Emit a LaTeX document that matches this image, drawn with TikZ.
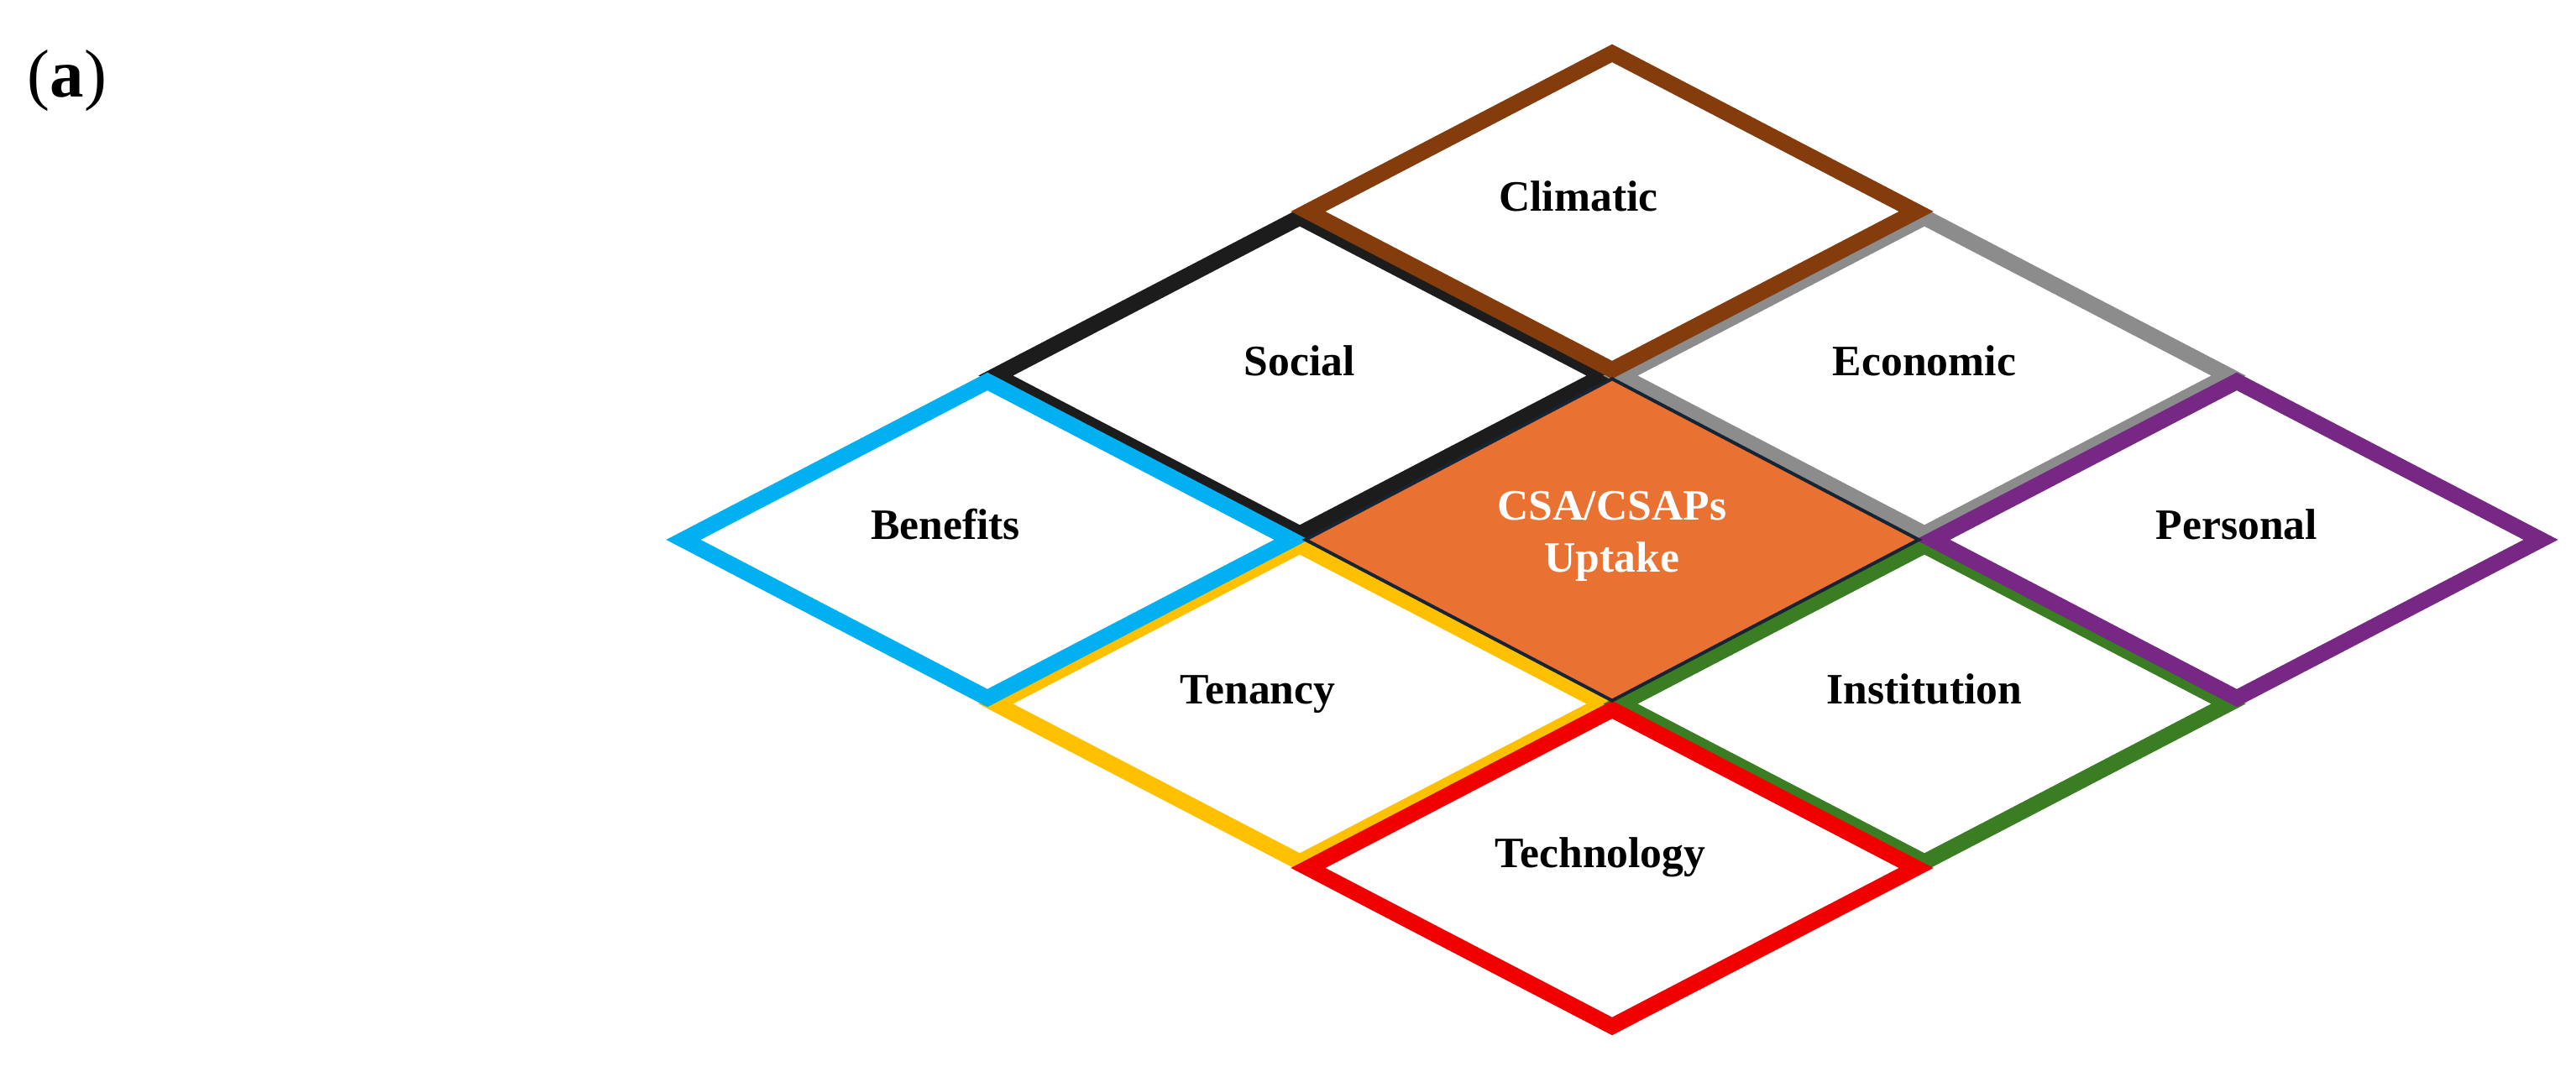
\documentclass[tikz,border=0pt]{standalone}
\usepackage{fontspec}
\setmainfont{Liberation Serif}
\usetikzlibrary{shapes.geometric}

\definecolor{climaticbrown}{RGB}{132,60,12}
\definecolor{socialblack}{RGB}{28,28,28}
\definecolor{economicgray}{RGB}{140,140,140}
\definecolor{benefitsblue}{RGB}{0,176,240}
\definecolor{personalpurple}{RGB}{118,40,132}
\definecolor{tenancyyellow}{RGB}{255,192,0}
\definecolor{institutiongreen}{RGB}{58,125,34}
\definecolor{technologyred}{RGB}{240,0,0}
\definecolor{uptakeorange}{RGB}{233,113,50}
\definecolor{uptakeborder}{RGB}{23,36,52}

\begin{document}
\begin{tikzpicture}[tile/.style={draw, diamond, minimum width=7.32cm, minimum height=3.85cm, inner sep=0pt, line width=0.19cm},
        lbl/.style={anchor=base, inner sep=0pt, font=\fontsize{14.7}{17.6}\selectfont\bfseries}]
    \useasboundingbox (0,0) rectangle (30.68,12.83);

    % Panel letter
    \node[anchor=base, inner sep=0pt, font=\fontsize{23}{27}\selectfont] at (0.80, 11.67) (panel) {(\textbf{a})};

    % Tiles on the sides
    \node[tile, draw=socialblack] at (15.48, 8.355) (social) {};
    \node[tile, draw=economicgray] at (22.92, 8.355) (economic) {};
    \node[tile, draw=tenancyyellow] at (15.48, 4.445) (tenancy) {};
    \node[tile, draw=institutiongreen] at (22.92, 4.445) (institution) {};

    % Tiles on the corners
    \node[tile, draw=climaticbrown] at (19.20, 10.31) (climatic) {};
    \node[tile, draw=benefitsblue] at (11.76, 6.40) (benefits) {};
    \node[tile, draw=personalpurple] at (26.64, 6.40) (personal) {};
    \node[tile, draw=technologyred] at (19.20, 2.49) (technology) {};

    % Centre tile
    \node[tile, draw=uptakeborder, fill=uptakeorange, line width=0.04cm] at (19.20, 6.40) (uptake) {};

    % Labels
    \node[lbl] at ([xshift=-0.40cm]climatic.center) (climaticlbl) {Climatic};
    \node[lbl] at (social.center) (sociallbl) {Social};
    \node[lbl] at (economic.center) (economiclbl) {Economic};
    \node[lbl] at ([xshift=-0.50cm]benefits.center) (benefitslbl) {Benefits};
    \node[lbl] at (personal.center) (personallbl) {Personal};
    \node[lbl] at ([xshift=-0.50cm]tenancy.center) (tenancylbl) {Tenancy};
    \node[lbl] at (institution.center) (institutionlbl) {Institution};
    \node[lbl] at ([xshift=-0.14cm]technology.center) (technologylbl) {Technology};
    \node[lbl, anchor=center, align=center, text=white] at ([yshift=0.04cm]uptake.center) (uptakelbl) {CSA/CSAPs\\Uptake};
\end{tikzpicture}
\end{document}
